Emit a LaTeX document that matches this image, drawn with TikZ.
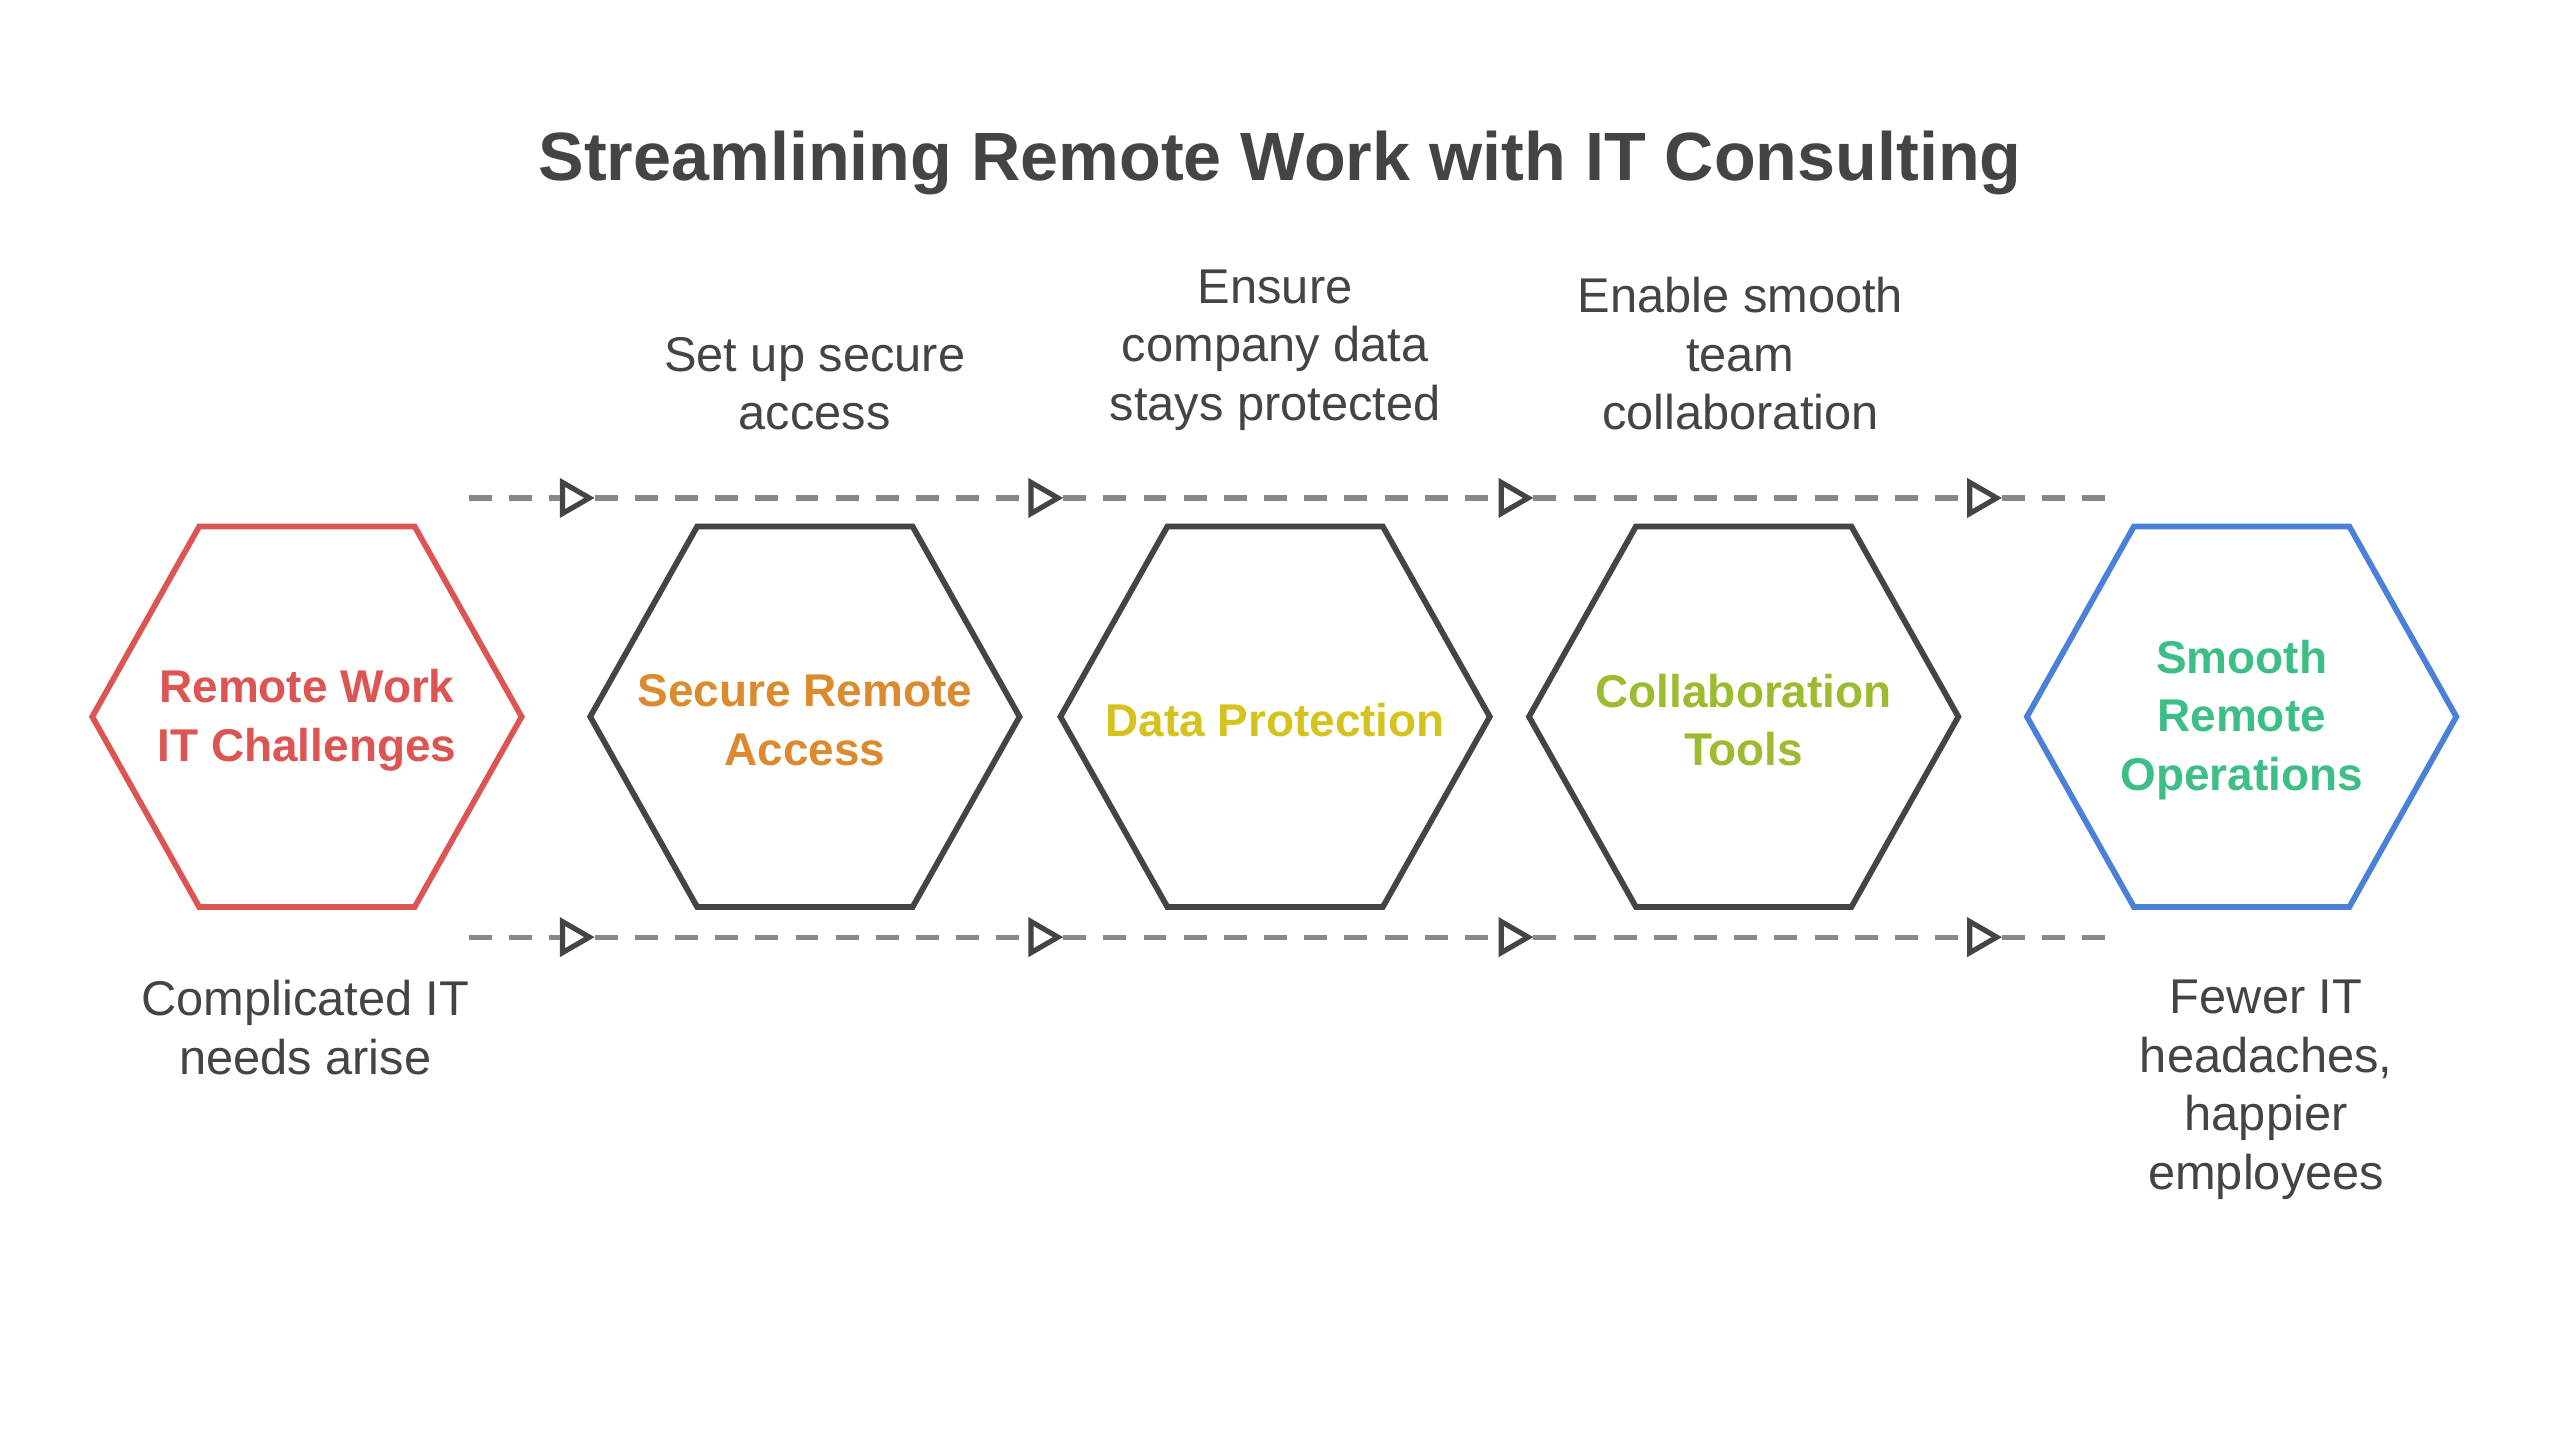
\documentclass[tikz,border=0pt]{standalone}
\usepackage{fontspec}
\setmainfont{Liberation Sans}
\usetikzlibrary{shapes.geometric}
\definecolor{dk}{HTML}{444444}
\definecolor{cred}{HTML}{DC5552}
\definecolor{cora}{HTML}{DB8A2E}
\definecolor{cyel}{HTML}{D6C21C}
\definecolor{cyg}{HTML}{9DBB2E}
\definecolor{cgrn}{HTML}{3CBE86}
\definecolor{cblu}{HTML}{4A80D8}
\definecolor{dashgray}{HTML}{888888}
\tikzset{
 hexa/.style={align=center,font=\fontsize{8}{10.2}\selectfont\bfseries},
 hexline/.style={draw=dk,line width=1pt,line join=miter},
 desc/.style={align=center,text=dk,font=\fontsize{8.5}{10.2}\selectfont},
 tri/.style={regular polygon,regular polygon sides=3,shape border rotate=-90,draw=dk,line width=0.9pt,fill=white,minimum size=22*0.01cm,inner sep=0pt},
 dl/.style={draw=dashgray,line width=0.9pt,dash pattern=on 4pt off 3pt},
}
\newcommand\hexshape[2]{\draw[hexline,#2] ($(#1)+(-131.5,0)$) -- ++(65.5,-116.5) -- ++(132,0) -- ++(65.5,116.5) -- ++(-65.5,116.5) -- ++(-132,0) -- cycle;}
\usetikzlibrary{calc}
\begin{document}
\begin{tikzpicture}[x=0.01cm,y=-0.01cm]
\useasboundingbox[fill=white] (0,0) rectangle (1568,882);
\node[font=\fontsize{11.9}{14}\selectfont\bfseries,text=dk] (title) at (784,100) {Streamlining Remote Work with IT Consulting};
\node[hexa,text=cred] (h1) at (188,441) {Remote Work\\IT Challenges};
\node[hexa,text=cora] (h2) at (493,441) {Secure Remote\\Access};
\node[hexa,text=cyel] (h3) at (781,441) {Data Protection};
\node[hexa,text=cyg] (h4) at (1068,441) {Collaboration\\Tools};
\node[hexa,text=cgrn] (h5) at (1373,441) {Smooth\\Remote\\Operations};
\hexshape{188,439}{draw=cred}
\hexshape{493,439}{}
\hexshape{781,439}{}
\hexshape{1068,439}{}
\hexshape{1373,439}{draw=cblu}
\foreach \r/\y in {t/305,b/574}{
 \coordinate (\r s) at (287,\y);
 \coordinate (\r e) at (1295,\y);
 \node[tri] (\r1) at (350,\y) {};
 \node[tri] (\r2) at (637,\y) {};
 \node[tri] (\r3) at (925,\y) {};
 \node[tri] (\r4) at (1212,\y) {};
 \draw[dl] (\r s) -- (\r1.west);
 \draw[dl] (\r1.east) -- (\r2.west);
 \draw[dl] (\r2.east) -- (\r3.west);
 \draw[dl] (\r3.east) -- (\r4.west);
 \draw[dl] (\r4.east) -- (\r e);
}
\node[desc,anchor=south] (d2) at (499,276) {Set up secure\\access};
\node[desc,anchor=south] (d3) at (781,276) {Ensure\\company data\\stays protected};
\node[desc,anchor=south] (d4) at (1066,276) {Enable smooth\\team\\collaboration};
\node[desc,anchor=north] (d1) at (187,588) {Complicated IT\\needs arise};
\node[desc,anchor=north] (d5) at (1388,588) {Fewer IT\\headaches,\\happier\\employees};
\end{tikzpicture}
\end{document}
